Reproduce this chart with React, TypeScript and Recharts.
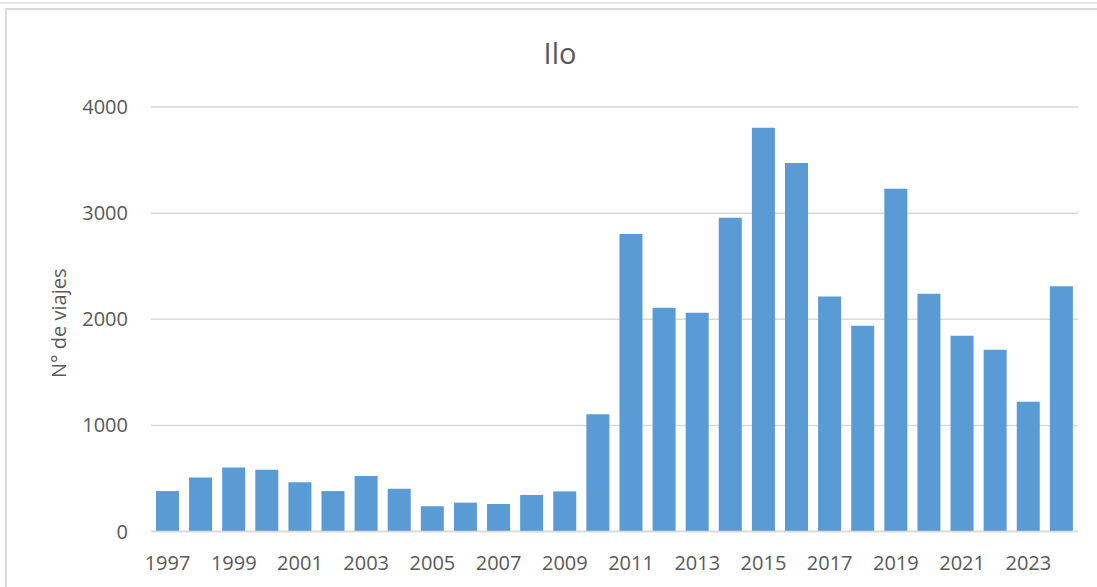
import React from 'react';
import { BarChart, Bar, XAxis, YAxis, CartesianGrid } from 'recharts';

const years = [
  '1997', '1998', '1999', '2000', '2001', '2002', '2003', '2004', '2005', '2006',
  '2007', '2008', '2009', '2010', '2011', '2012', '2013', '2014', '2015', '2016',
  '2017', '2018', '2019', '2020', '2021', '2022', '2023', '2024',
];
const viajes = [
  381, 509, 603, 581, 463, 381, 522, 403, 238, 272,
  259, 344, 378, 1106, 2803, 2108, 2061, 2957, 3805, 3472,
  2215, 1939, 3230, 2240, 1844, 1712, 1222, 2310,
];
const yTicks = [0, 1000, 2000, 3000, 4000];
const title = 'Ilo';
const yTitle = 'N° de viajes';

const data = years.map((y, i) => ({ year: y, value: viajes[i] }));

const FONT = '"Open Sans", sans-serif';
const TXT = '#595959';

const YLabel = (props: any) => {
  const vb = props.viewBox || {};
  const cx = 58;
  const cy = (vb.y || 0) + (vb.height || 0) / 2 + 4;
  return (
    <text
      x={cx}
      y={cy}
      transform={`rotate(-90, ${cx}, ${cy})`}
      textAnchor="middle"
      dominantBaseline="central"
      fill={TXT}
      fontSize={20}
      fontFamily={FONT}
    >
      {yTitle}
    </text>
  );
};

export default function App() {
  return (
    <div style={{ position: 'absolute', left: 0, top: 0, width: 1097, height: 587, background: '#fff', overflow: 'hidden' }}>
      <div style={{ position: 'absolute', left: 0, top: 2, width: 1097, height: 2, background: '#e3e3e3' }} />
      <div
        style={{
          position: 'absolute', left: 5, top: 8, width: 1200, height: 700,
          borderLeft: '2px solid #d9d9d9', borderTop: '2px solid #d9d9d9', boxSizing: 'border-box',
        }}
      />
      <div
        style={{
          position: 'absolute', left: 0, top: 37.7, width: 1120, textAlign: 'center',
          fontFamily: FONT, fontSize: 29, lineHeight: '29px', color: TXT,
        }}
      >
        {title}
      </div>
      <div style={{ position: 'absolute', left: 0, top: 0 }}>
        <BarChart
          width={1097}
          height={587}
          data={data}
          margin={{ top: 107, right: 19, bottom: 15.5, left: 0 }}
          barCategoryGap="15%"
        >
          <CartesianGrid horizontal vertical={false} stroke="#d9d9d9" strokeWidth={1.5} />
          <XAxis
            dataKey="year"
            interval={1}
            height={40}
            tickLine={false}
            axisLine={{ stroke: '#d9d9d9', strokeWidth: 1.5 }}
            tickMargin={18}
            tick={{ fill: TXT, fontSize: 20, fontFamily: FONT }}
          />
          <YAxis
            width={151}
            domain={[0, 4000]}
            ticks={yTicks}
            tickLine={false}
            axisLine={false}
            tickMargin={17}
            tick={{ fill: TXT, fontSize: 20, fontFamily: FONT }}
            label={<YLabel />}
          />
          <Bar dataKey="value" fill="#5B9BD5" isAnimationActive={false} />
        </BarChart>
      </div>
    </div>
  );
}
